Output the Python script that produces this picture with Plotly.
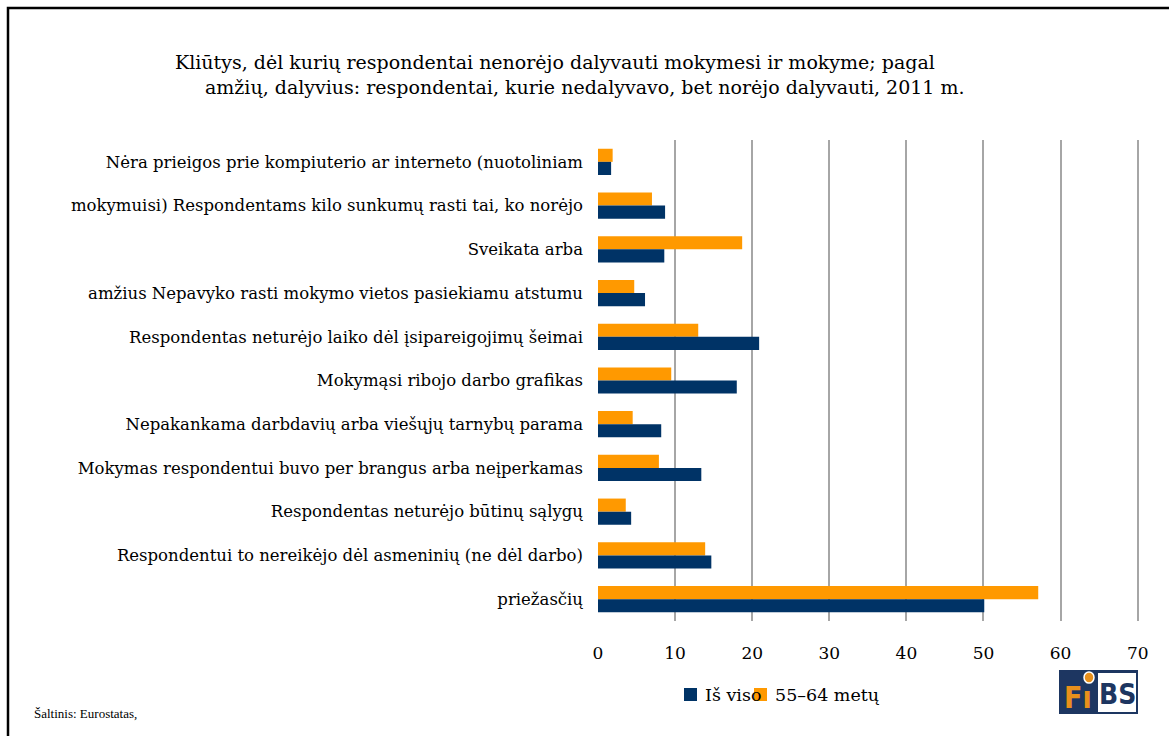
import plotly.graph_objects as go

categories = [
    "Nėra prieigos prie kompiuterio ar interneto (nuotoliniam",
    "mokymuisi) Respondentams kilo sunkumų rasti tai, ko norėjo",
    "Sveikata arba",
    "amžius Nepavyko rasti mokymo vietos pasiekiamu atstumu",
    "Respondentas neturėjo laiko dėl įsipareigojimų šeimai",
    "Mokymąsi ribojo darbo grafikas",
    "Nepakankama darbdavių arba viešųjų tarnybų parama",
    "Mokymas respondentui buvo per brangus arba neįperkamas",
    "Respondentas neturėjo būtinų sąlygų",
    "Respondentui to nereikėjo dėl asmeninių (ne dėl darbo)",
    "priežasčių",
]
total = [1.7, 8.7, 8.6, 6.1, 20.9, 18.0, 8.2, 13.4, 4.3, 14.7, 50.1]
age_55_64 = [1.9, 7.0, 18.7, 4.7, 13.0, 9.5, 4.5, 7.9, 3.6, 13.9, 57.1]
series_names = ["Iš viso", "55–64 metų"]
x_ticks = [0, 10, 20, 30, 40, 50, 60, 70]

NAVY = "#003366"
ORANGE = "#FF9900"
FONT = "DejaVu Serif"

W, H = 1169, 736
ML, MR, MT, MB = 598, 29, 140, 115
PW = W - ML - MR
PH = H - MT - MB


def px(xpix):
    return (xpix - ML) / PW


def py(ypix):
    return (H - MB - ypix) / PH


fig = go.Figure()
# orange first so that it sits on top within each group (reversed y axis)
fig.add_trace(go.Bar(y=categories, x=age_55_64, name=series_names[1], orientation="h",
                     marker=dict(color=ORANGE, line=dict(width=0)), showlegend=False))
fig.add_trace(go.Bar(y=categories, x=total, name=series_names[0], orientation="h",
                     marker=dict(color=NAVY, line=dict(width=0)), showlegend=False))

fig.update_layout(
    width=W, height=H,
    margin=dict(l=ML, r=MR, t=MT, b=MB, pad=0),
    paper_bgcolor="white", plot_bgcolor="white",
    barmode="group", bargap=0.4, bargroupgap=0,
    font=dict(family=FONT, color="black", size=16.5),
    xaxis=dict(range=[0, 70.3], tickvals=x_ticks, showgrid=True, gridcolor="#a6a6a6",
               gridwidth=1.5, zeroline=False, showline=False, ticks="",
               tickfont=dict(size=17, family=FONT), ticklabelstandoff=20),
    yaxis=dict(categoryorder="array", categoryarray=categories, range=[10.5, -0.5],
               showgrid=False, zeroline=False, showline=False, ticks="",
               tickfont=dict(size=16.5, family=FONT), ticklabelstandoff=14),
    showlegend=False,
)

# Legend (drawn manually to reproduce the compact, overlapping layout)
legend_items = [(series_names[0], NAVY, 684), (series_names[1], ORANGE, 754)]
for name, color, x0 in legend_items:
    fig.add_annotation(text=name, xref="paper", yref="paper", x=px(x0 + 19), y=py(695),
                       xanchor="left", yanchor="middle", showarrow=False,
                       font=dict(size=17.5, family=FONT))
for name, color, x0 in legend_items:
    fig.add_shape(type="rect", xref="paper", yref="paper", x0=px(x0), x1=px(x0 + 13),
                  y0=py(701), y1=py(688), line=dict(width=0), fillcolor=color, layer="above")

# Title
fig.add_annotation(text="Kliūtys, dėl kurių respondentai nenorėjo dalyvauti mokymesi ir mokyme; pagal",
                   xref="paper", yref="paper", x=px(173), y=py(62), xanchor="left", yanchor="middle",
                   showarrow=False, font=dict(size=19, family=FONT))
fig.add_annotation(text="amžių, dalyvius: respondentai, kurie nedalyvavo, bet norėjo dalyvauti, 2011 m.",
                   xref="paper", yref="paper", x=px(203), y=py(87), xanchor="left", yanchor="middle",
                   showarrow=False, font=dict(size=19, family=FONT))
# Source
fig.add_annotation(text="Šaltinis: Eurostatas,", xref="paper", yref="paper", x=px(32), y=py(713),
                   xanchor="left", yanchor="middle", showarrow=False,
                   font=dict(size=13, family="Liberation Serif"))

# Frame border
fig.add_shape(type="rect", xref="paper", yref="paper", x0=px(8), x1=px(1180), y0=py(760), y1=py(8),
              line=dict(color="black", width=2.5), fillcolor="rgba(0,0,0,0)", layer="above")

# Logo
fig.add_shape(type="rect", xref="paper", yref="paper", x0=px(1059), x1=px(1138), y0=py(714), y1=py(670),
              line=dict(width=0), fillcolor="#1d3661")
fig.add_shape(type="rect", xref="paper", yref="paper", x0=px(1098), x1=px(1136), y0=py(712), y1=py(673),
              line=dict(width=0), fillcolor="white")
fig.add_shape(type="circle", xref="paper", yref="paper", x0=px(1084), x1=px(1094), y0=py(683), y1=py(672),
              line=dict(color="white", width=1.5), fillcolor="#e8901c")
fig.add_annotation(text="<b>Fı</b>", xref="paper", yref="paper", x=px(1078), y=py(697),
                   xanchor="center", yanchor="middle", showarrow=False,
                   font=dict(size=30, family="DejaVu Sans Condensed", color="#e8901c"))
fig.add_annotation(text="<b>BS</b>", xref="paper", yref="paper", x=px(1117), y=py(694),
                   xanchor="center", yanchor="middle", showarrow=False,
                   font=dict(size=28, family="DejaVu Sans Condensed", color="#1d3661"))

fig.write_html("out.html", config={"displayModeBar": False},
               post_script="document.body.style.margin='0';document.body.style.padding='0';")
